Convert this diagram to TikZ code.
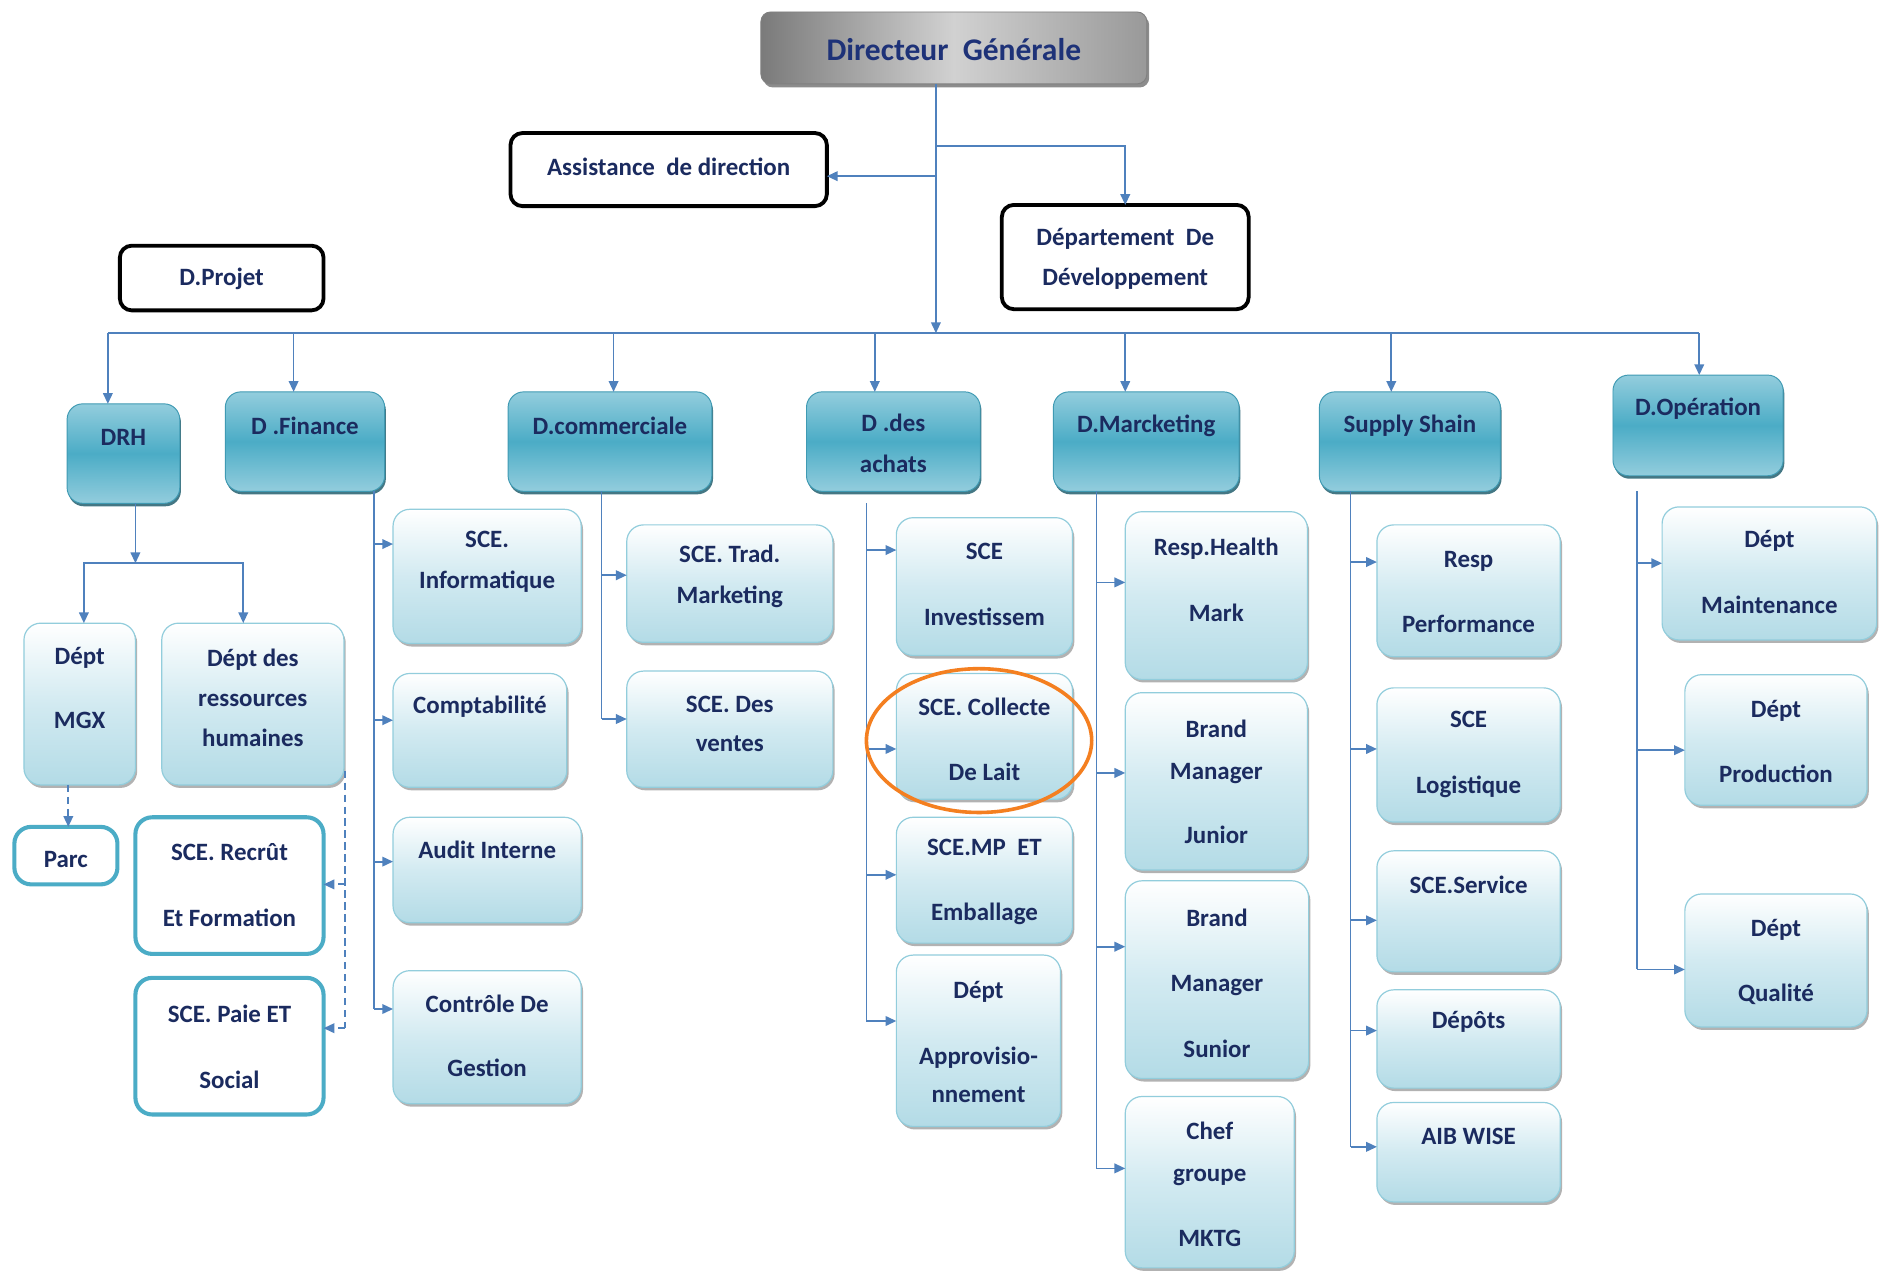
\documentclass[tikz,border=0pt]{standalone}
\usepackage{fontspec}
\setmainfont{Carlito}
\usetikzlibrary{arrows.meta,shadows}

\definecolor{conn}{HTML}{4F81BD}
\definecolor{ink}{HTML}{1B2B5F}
\definecolor{dgink}{HTML}{1E3278}
\definecolor{subedge}{HTML}{92CDDC}
\definecolor{sublow}{HTML}{B3DBE6}
\definecolor{submid}{HTML}{D2EAF1}
\definecolor{headlt}{HTML}{93CDDD}
\definecolor{headdk}{HTML}{4BACC6}
\definecolor{headedge}{HTML}{3F9AB3}
\definecolor{headshade}{HTML}{24606F}
\definecolor{tealline}{HTML}{4BACC6}
\definecolor{ringorange}{HTML}{F47F20}

\tikzset{
  line/.style={draw=conn, line width=1.5pt},
  arr/.style={line, -{Triangle[length=9pt,width=8pt]}},
  txt/.style={font=\fontsize{20.8}{#1}\selectfont\bfseries, text=ink, align=center, inner sep=0pt},
  txt/.default=25,
  subbox/.style={rounded corners=14pt, draw=subedge, line width=1pt,
    top color=white, bottom color=sublow, middle color=submid,
    drop shadow={shadow xshift=1.5pt, shadow yshift=-2.5pt, opacity=0.3, fill=black},
    inner sep=0pt, outer sep=0pt},
  headbox/.style={rounded corners=13pt, draw=headedge, line width=0.8pt,
    top color=headlt, bottom color=headlt, middle color=headdk,
    drop shadow={shadow xshift=1pt, shadow yshift=-2.5pt, fill=headshade, opacity=0.85},
    inner sep=0pt, outer sep=0pt},
  blackbox/.style={rounded corners=10pt, draw=black, line width=3.2pt, fill=white,
    inner sep=0pt, outer sep=0pt},
  tealbox/.style={rounded corners=14pt, draw=tealline, line width=3.4pt, fill=white,
    inner sep=0pt, outer sep=0pt},
  dgbox/.style={rounded corners=8pt, draw=gray, line width=0.8pt,
    left color=black!52, right color=black!40, middle color=black!18,
    drop shadow={shadow xshift=2pt, shadow yshift=-3pt, opacity=0.45, fill=black},
    inner sep=0pt, outer sep=0pt}
}

% box: style, name, x1, y1, x2, y2, text centre y, line pitch, text
\newcommand\bx[9]{%
  \node[#1, minimum width={#5-#3}, minimum height={#6-#4}] (#2) at ({(#3+#5)/2},{(#4+#6)/2}) {};
  \node[txt=#8] (#2-t) at ({(#3+#5)/2},#7) {#9};}
% branch arrow from a trunk at x=#1, height #2, into box #3
\newcommand\br[3]{\draw[arr] (#1,#2) -- (#3.west |- #1,#2);}
% drop from the main bus at x=#1 into box #2
\newcommand\drop[2]{\draw[arr] (#1,278) -- (#2.north -| #1,0);}

\begin{document}
\begin{tikzpicture}[x=1pt,y=-1pt]
\fill[white] (0,0) rectangle (1568,1061);
\useasboundingbox (0,0) rectangle (1568,1061);

% top of the chart
\node[dgbox, minimum width=322, minimum height=60] (dg) at (796,40) {};
\node[font=\fontsize{26.3}{30}\selectfont\bfseries, text=dgink, inner sep=0pt] (dg-t) at (796,41) {Directeur\ \ Générale};

\bx{blackbox}{asst}{426}{111}{690}{172}{139}{25}{Assistance\ \ de direction}
\bx{blackbox}{dev}{836}{171}{1042}{258}{216}{34}{Département\ \ De\\Développement}
\bx{blackbox}{proj}{100}{205}{270}{259}{233}{25}{D.Projet}

% directions
\bx{headbox}{drh}{56}{337}{150}{420}{365}{25}{DRH}
\bx{headbox}{fin}{188}{327}{321}{410}{355}{25}{D .Finance}
\bx{headbox}{com}{424}{327}{594}{410}{355}{25}{D.commerciale}
\bx{headbox}{ach}{673}{327}{818}{410}{370}{34}{D .des\\achats}
\bx{headbox}{mkt}{879}{327}{1034}{410}{355}{25}{D.Marcketing}
\bx{headbox}{sup}{1101}{327}{1252}{410}{355}{25}{Supply Shain}
\bx{headbox}{ope}{1346}{313}{1488}{397}{341}{25}{D.Opération}

% DRH
\bx{subbox}{mgx}{20}{520}{113}{655}{574}{54}{Dépt\\MGX}
\bx{subbox}{rh}{135}{520}{287}{655}{582.5}{33.5}{Dépt des\\ressources\\humaines}
\bx{tealbox}{parc}{12}{690}{98}{738}{717}{25}{Parc}
\bx{tealbox}{rec}{113}{682}{270}{796}{738.5}{55}{SCE. Recrût\\Et Formation}
\bx{tealbox}{paie}{113}{816}{270}{930}{873.5}{55}{SCE. Paie ET\\Social}

% finance
\bx{subbox}{inf}{328}{425}{485}{537}{469}{34}{SCE.\\Informatique}
\bx{subbox}{cpt}{328}{562}{473}{657}{590}{25}{Comptabilité}
\bx{subbox}{aud}{328}{682}{485}{770}{709}{25}{Audit Interne}
\bx{subbox}{ctl}{328}{810}{485}{921}{864.5}{53}{Contrôle De\\Gestion}

% commerciale
\bx{subbox}{trd}{523}{438}{695}{536}{481}{34}{SCE. Trad.\\Marketing}
\bx{subbox}{vte}{523}{560}{695}{657}{604}{32}{SCE. Des\\ventes}

% achats
\bx{subbox}{inv}{748}{432}{895}{547}{487.5}{55}{SCE\\Investissem}
\bx{subbox}{col}{748}{562}{895}{667}{617}{54}{SCE. Collecte\\De Lait}
\bx{subbox}{emb}{748}{682}{895}{787}{736}{54}{SCE.MP\ \ ET\\Emballage}
\bx{subbox}{app}{748}{797}{885}{940}{869.5}{32}{Dépt\\[23pt]Approvisio-\\nnement}

% marketing
\bx{subbox}{hea}{939}{427}{1091}{567}{483.5}{55}{Resp.Health\\Mark}
\bx{subbox}{bmj}{939}{578}{1091}{726}{652.5}{35}{Brand\\Manager\\[19pt]Junior}
\bx{subbox}{bms}{939}{735}{1092}{900}{820.5}{54.5}{Brand\\Manager\\Sunior}
\bx{subbox}{chf}{939}{915}{1080}{1058}{988.5}{35}{Chef\\groupe\\[19pt]MKTG}

% supply chain
\bx{subbox}{prf}{1149}{438}{1302}{548}{494}{54}{Resp\\Performance}
\bx{subbox}{log}{1149}{574}{1302}{686}{629.5}{55}{SCE\\Logistique}
\bx{subbox}{srv}{1149}{710}{1302}{811}{738}{25}{SCE.Service}
\bx{subbox}{dep}{1149}{826}{1302}{908}{853}{25}{Dépôts}
\bx{subbox}{aib}{1149}{920}{1302}{1003}{948}{25}{AIB WISE}

% operations
\bx{subbox}{mnt}{1387}{423}{1566}{534}{477.5}{55}{Dépt\\Maintenance}
\bx{subbox}{prd}{1406}{563}{1558}{672}{619}{54}{Dépt\\Production}
\bx{subbox}{qlt}{1406}{746}{1558}{857}{803}{54}{Dépt\\Qualité}

% connectors from the director
\coordinate (hub) at (781,278);
\draw[arr] (hub |- dg.south) -- (hub);
\coordinate (devJ) at (781,122);
\draw[arr] (devJ) -| (dev.north);
\coordinate (asJ) at (781,147);
\draw[arr] (asJ) -- (asJ -| asst.east);
\coordinate (busL) at (90,278);
\coordinate (busR) at (1418,278);
\draw[line] (busL) -- (busR);
\drop{90}{drh}
\drop{245}{fin}
\drop{512}{com}
\drop{730}{ach}
\drop{939}{mkt}
\drop{1161}{sup}
\drop{1418}{ope}

% DRH links
\coordinate (drhJ) at (113,470);
\coordinate (mgxJ) at (70,470);
\coordinate (rhJ) at (203,470);
\draw[arr] (drhJ |- drh.south) -- (drhJ);
\draw[arr] (drhJ) -- (mgxJ) -- (mgxJ |- mgx.north);
\draw[arr] (drhJ) -- (rhJ) -- (rhJ |- rh.north);
\draw[arr, dash pattern=on 6pt off 4pt] (mgx.south -| 57,0) -- (parc.north -| 57,0);
\coordinate (rhD) at (288,643);
\draw[line, dash pattern=on 6pt off 4pt] (rhD) -- (288,858);
\draw[arr, dash pattern=on 6pt off 4pt] (288,738) -- (rec.east |- 0,738);
\draw[arr, dash pattern=on 6pt off 4pt] (288,858) -- (paie.east |- 0,858);

% finance links
\draw[line] (fin.south -| 312,0) -- (312,842);
\br{312}{454}{inf} \br{312}{601}{cpt} \br{312}{719}{aud} \br{312}{842}{ctl}

% commerciale links
\draw[line] (com.south -| 502,0) -- (502,600);
\br{502}{480}{trd} \br{502}{600}{vte}

% achats links
\draw[line] (723,420) -- (723,852);
\br{723}{459}{inv} \br{723}{625}{col} \br{723}{730}{emb} \br{723}{852}{app}

% marketing links
\draw[line] (mkt.south -| 915,0) -- (915,975);
\br{915}{486}{hea} \br{915}{645}{bmj} \br{915}{790}{bms} \br{915}{975}{chf}

% supply chain links
\draw[line] (sup.south -| 1127,0) -- (1127,957);
\br{1127}{469}{prf} \br{1127}{625}{log} \br{1127}{768}{srv} \br{1127}{860}{dep} \br{1127}{957}{aib}

% operations links
\draw[line] (1366,410) -- (1366,809);
\br{1366}{470}{mnt} \br{1366}{626}{prd} \br{1366}{809}{qlt}

% highlight ring
\coordinate (ring) at (817,618);
\draw[ringorange, line width=3pt] (ring) ellipse [x radius=94pt, y radius=60pt];
\end{tikzpicture}
\end{document}
